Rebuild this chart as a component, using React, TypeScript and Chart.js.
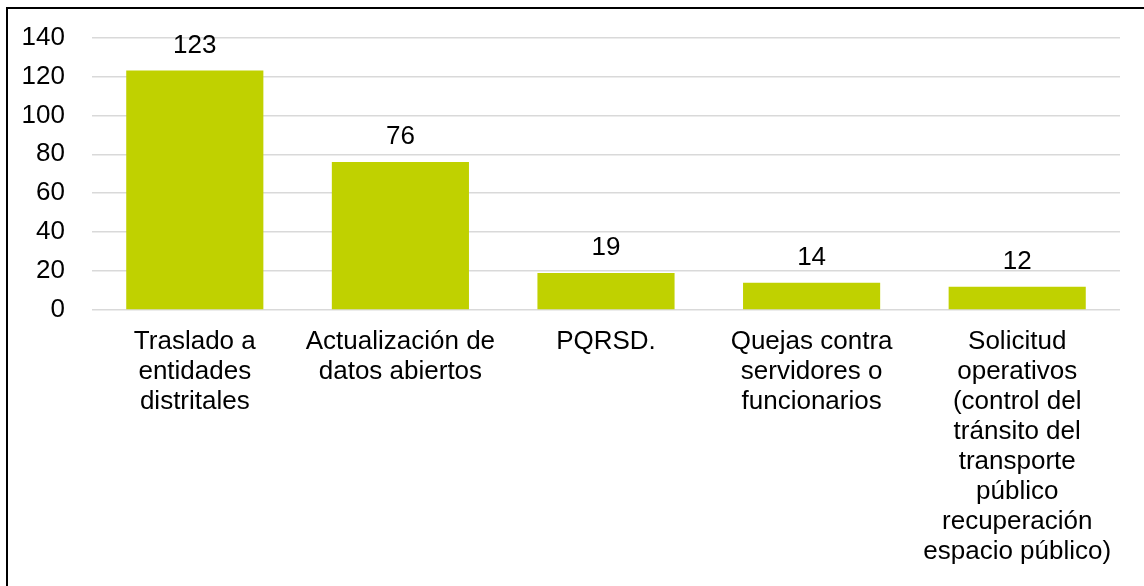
import React, { useEffect, useRef } from "react";
import { Chart, registerables } from "chart.js";

Chart.register(...registerables);

const categories: string[][] = [
  ["Traslado a", "entidades", "distritales"],
  ["Actualización de", "datos abiertos"],
  ["PQRSD."],
  ["Quejas contra", "servidores o", "funcionarios"],
  [
    "Solicitud",
    "operativos",
    "(control del",
    "tránsito del",
    "transporte",
    "público",
    "recuperación",
    "espacio público)",
  ],
];

const values: number[] = [123, 76, 19, 14, 12];

const yMin = 0;
const yMax = 140;
const yStep = 20;

const FONT = "'Liberation Sans', Arial, sans-serif";
const BAR_COLOR = "#C0D100";

const valueLabels = {
  id: "valueLabels",
  afterDatasetsDraw(chart: any) {
    const ctx = chart.ctx;
    const meta = chart.getDatasetMeta(0);
    ctx.save();
    ctx.font = `26px ${FONT}`;
    ctx.fillStyle = "#000000";
    ctx.textAlign = "center";
    ctx.textBaseline = "alphabetic";
    meta.data.forEach((bar: any, i: number) => {
      ctx.fillText(String(values[i]), bar.x, bar.y - 18);
    });
    ctx.restore();
  },
};

const frame = {
  id: "frame",
  beforeDraw(chart: any) {
    const ctx = chart.ctx;
    ctx.save();
    ctx.fillStyle = "#ffffff";
    ctx.fillRect(0, 0, chart.width, chart.height);
    ctx.restore();
  },
  afterDraw(chart: any) {
    const ctx = chart.ctx;
    ctx.save();
    ctx.fillStyle = "#000000";
    ctx.fillRect(6, 7, chart.width - 6, 2);
    ctx.fillRect(6, 7, 2, chart.height - 7);
    ctx.restore();
  },
};

export default function App() {
  const ref = useRef<HTMLCanvasElement | null>(null);

  useEffect(() => {
    if (!ref.current) return;
    const chart = new Chart(ref.current, {
      type: "bar",
      data: {
        labels: categories,
        datasets: [
          {
            data: values,
            backgroundColor: BAR_COLOR,
            borderWidth: 0,
            categoryPercentage: 0.667,
            barPercentage: 1,
          },
        ],
      },
      options: {
        responsive: false,
        animation: false,
        layout: { padding: { top: 37.5, right: 24, bottom: 0, left: 0 } },
        plugins: {
          legend: { display: false },
          tooltip: { enabled: false },
        },
        scales: {
          x: {
            grid: { display: false, drawTicks: false },
            border: { display: false },
            ticks: {
              autoSkip: false,
              maxRotation: 0,
              minRotation: 0,
              padding: 17,
              color: "#000000",
              font: { family: FONT, size: 26, lineHeight: 30 / 26 },
            },
            afterFit(scale: any) {
              scale.height = 276;
              scale.paddingLeft = 0;
              scale.paddingRight = 0;
            },
          },
          y: {
            min: yMin,
            max: yMax,
            grid: { color: "#d9d9d9", lineWidth: 1.5, drawTicks: false },
            border: { display: false },
            ticks: {
              stepSize: yStep,
              padding: 27,
              color: "#000000",
              font: { family: FONT, size: 26 },
            },
            afterFit(scale: any) {
              scale.width = 92;
              scale.paddingTop = 0;
              scale.paddingBottom = 0;
            },
          },
        },
      },
      plugins: [valueLabels, frame],
    });
    return () => chart.destroy();
  }, []);

  return (
    <div style={{ position: "absolute", left: 0, top: 0, width: 1144, height: 586 }}>
      <canvas ref={ref} width={1144} height={586} style={{ display: "block" }} />
    </div>
  );
}
